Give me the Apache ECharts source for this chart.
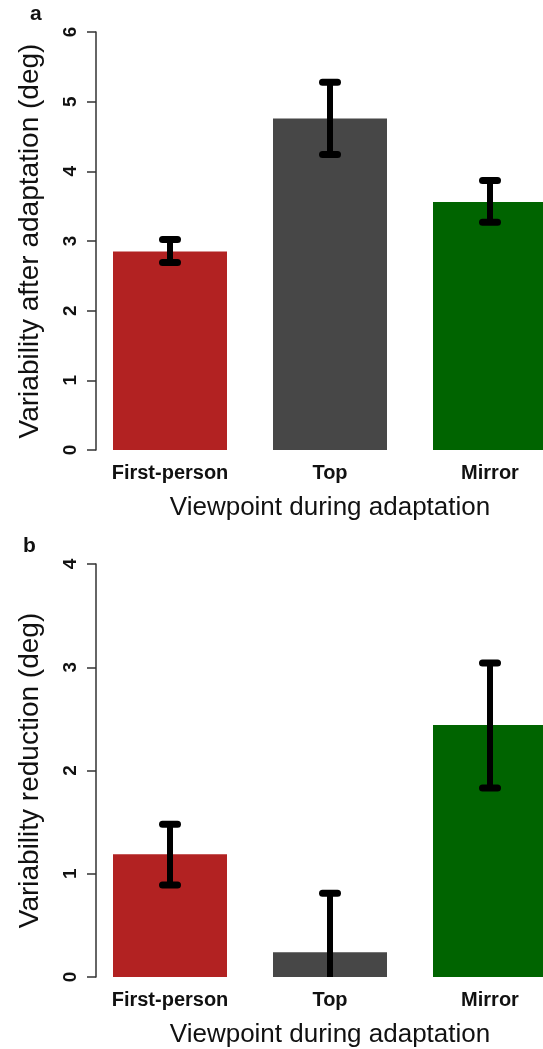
<!DOCTYPE html>
<html>
<head>
<meta charset="utf-8">
<script src="https://cdn.jsdelivr.net/npm/echarts/dist/echarts.min.js"></script>
<style>
  html, body { margin: 0; padding: 0; background: #fff; overflow: hidden; }
  /* 画布比窗口宽一点，绿色柱子在右边被截掉 */
  #chart { width: 570px; height: 1049px; }
</style>
</head>
<body>
<div id="chart"></div>
<script>
// 数据（从图上读出来的估计值）
const categories = ['First-person', 'Top', 'Mirror']
const barColors = ['#B22222', '#474747', '#006400']
// a: Variability after adaptation
const afterMean = [2.85, 4.76, 3.56]
const afterLow = [2.69, 4.24, 3.27]
const afterHigh = [3.02, 5.28, 3.87]
// b: Variability reduction
const reductionMean = [1.19, 0.24, 2.44]
const reductionLow = [0.89, -0.32, 1.83]
const reductionHigh = [1.48, 0.81, 3.04]
const ticksA = [0, 1, 2, 3, 4, 5, 6]
const ticksB = [0, 1, 2, 3, 4]

const font = '"Liberation Sans", Arial, sans-serif'
const chart = echarts.init(document.getElementById('chart'))

function barData(values) {
  return values.map((v, i) => ({ value: v, itemStyle: { color: barColors[i] }}))
}
function errData(low, high) {
  return low.map((l, i) => [i, l, high[i]])
}

// 误差线：竖线 + 两端圆头横线
function renderErr(params, api) {
  const x = api.value(0)
  const lo = api.coord([x, api.value(1)])
  const hi = api.coord([x, api.value(2)])
  const half = 7.5
  const style = { stroke: '#000', lineWidth: 7, lineCap: 'round' }
  return {
    type: 'group',
    children: [
      { type: 'line', shape: { x1: lo[0], y1: lo[1], x2: hi[0], y2: hi[1] }, style: { stroke: '#000', lineWidth: 6 }},
      { type: 'line', shape: { x1: hi[0] - half, y1: hi[1], x2: hi[0] + half, y2: hi[1] }, style: style },
      { type: 'line', shape: { x1: lo[0] - half, y1: lo[1], x2: lo[0] + half, y2: lo[1] }, style: style }
    ]
  }
}

function xAxisOf(gridIndex) {
  return {
    gridIndex: gridIndex,
    type: 'category',
    data: categories,
    axisLine: { show: false },
    axisTick: { show: false },
    axisLabel: { interval: 0, margin: 13, fontFamily: font, fontSize: 20, fontWeight: 'bold', color: '#111' },
    name: 'Viewpoint during adaptation',
    nameLocation: 'middle',
    nameGap: 45,
    nameTextStyle: { fontFamily: font, fontSize: 26, color: '#111' }
  }
}
function yAxisOf(gridIndex, max, name) {
  return {
    gridIndex: gridIndex,
    type: 'value',
    min: 0,
    max: max,
    interval: 1,
    offset: -6,
    splitLine: { show: false },
    axisLine: { show: true, lineStyle: { color: '#333', width: 1.5 }},
    axisTick: { show: true, length: 9, lineStyle: { color: '#333', width: 1.5 }},
    axisLabel: { rotate: 90, margin: 16, fontFamily: font, fontSize: 19, fontWeight: 'bold', color: '#111' },
    name: name,
    nameLocation: 'middle',
    nameGap: 52,
    nameTextStyle: { fontFamily: font, fontSize: 28, color: '#111' }
  }
}

chart.setOption({
  backgroundColor: '#fff',
  animation: false,
  grid: [
    { left: 90, top: 32, width: 480, height: 418 },
    { left: 90, top: 564, width: 480, height: 418 }
  ],
  xAxis: [xAxisOf(0), xAxisOf(1)],
  yAxis: [
    yAxisOf(0, ticksA[ticksA.length - 1], 'Variability after adaptation (deg)'),
    yAxisOf(1, ticksB[ticksB.length - 1], 'Variability reduction (deg)')
  ],
  graphic: [
    { type: 'text', left: 30, top: 4, style: { text: 'a', font: 'bold 21px ' + font, fill: '#111' }},
    { type: 'text', left: 23, top: 536, style: { text: 'b', font: 'bold 21px ' + font, fill: '#111' }}
  ],
  series: [
    { type: 'bar', xAxisIndex: 0, yAxisIndex: 0, barWidth: 114, data: barData(afterMean) },
    { type: 'custom', xAxisIndex: 0, yAxisIndex: 0, clip: true, renderItem: renderErr, data: errData(afterLow, afterHigh), z: 5 },
    { type: 'bar', xAxisIndex: 1, yAxisIndex: 1, barWidth: 114, data: barData(reductionMean) },
    { type: 'custom', xAxisIndex: 1, yAxisIndex: 1, clip: true, renderItem: renderErr, data: errData(reductionLow, reductionHigh), z: 5 }
  ]
})
</script>
</body>
</html>
